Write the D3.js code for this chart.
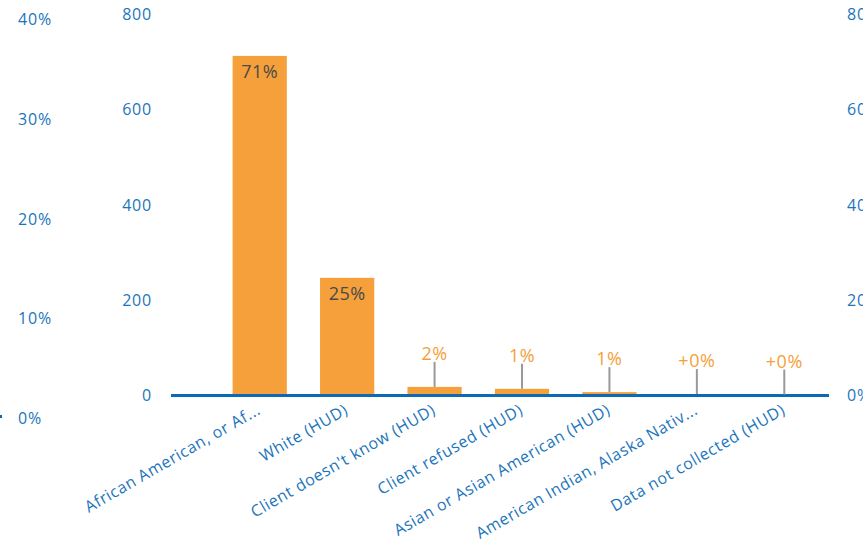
<!DOCTYPE html>
<html>
<head>
<meta charset="utf-8">
<script src="https://cdn.jsdelivr.net/npm/d3@7"></script>
<style>
  html, body { margin: 0; padding: 0; background: #fff; }
  svg { display: block; }
  text { font-family: "Open Sans", sans-serif; }
</style>
</head>
<body>
<svg id="chart" width="863" height="539"></svg>
<script>
const categories = [
  "African American, or Af...",
  "White (HUD)",
  "Client doesn't know (HUD)",
  "Client refused (HUD)",
  "Asian or Asian American (HUD)",
  "American Indian, Alaska Nativ...",
  "Data not collected (HUD)"
];
const counts = [712, 246, 17, 13, 6, 2, 1];
const pctLabels = ["71%", "25%", "2%", "1%", "1%", "+0%", "+0%"];
const countTicks = [0, 200, 400, 600, 800];
const leftPctTicks = [0, 0.1, 0.2, 0.3, 0.4];
const rightPctTicks = [0, 0.2, 0.4, 0.6, 0.8];

const W = 863, H = 539;
const svg = d3.select("#chart");
const BLUE = "#1b75bc";
const AXIS = "#0a6ab5";
const ORANGE = "#f5a03a";
const FONT_SIZE = 16;

const x = d3.scaleBand().domain(categories).range([216, 828])
  .paddingInner(0.38).paddingOuter(0.19);
const y = d3.scaleLinear().domain([0, 800]).range([395, 14]);
const yLeft = d3.scaleLinear().domain([0, 0.4]).range([418, 19]);
const yRight = d3.scaleLinear().domain([0, 0.8]).range([395, 14]);

function styleTicks(g) {
  g.select(".domain").remove();
  g.selectAll("text").attr("fill", BLUE).style("font-size", FONT_SIZE + "px")
    .style("letter-spacing", "0.8px").attr("dy", "0.35em");
}

// left percent axis
const gL = svg.append("g").attr("transform", "translate(18,0)")
  .call(d3.axisRight(yLeft).tickValues(leftPctTicks).tickFormat(d3.format(".0%")).tickSize(0).tickPadding(0));
styleTicks(gL);

// small mark at left edge
svg.append("rect").attr("x", 0).attr("y", yLeft(0) - 3).attr("width", 2).attr("height", 3).attr("fill", AXIS);

// count axis
const gC = svg.append("g").attr("transform", "translate(152,0)")
  .call(d3.axisLeft(y).tickValues(countTicks).tickFormat(d3.format("d")).tickSize(0).tickPadding(0));
styleTicks(gC);

// right percent axis
const gR = svg.append("g").attr("transform", "translate(847,0)")
  .call(d3.axisRight(yRight).tickValues(rightPctTicks).tickFormat(d3.format(".0%")).tickSize(0).tickPadding(0));
styleTicks(gR);

// bars
svg.append("g").selectAll("rect").data(categories).join("rect")
  .attr("x", d => x(d))
  .attr("width", x.bandwidth())
  .attr("y", (d, i) => y(counts[i]))
  .attr("height", (d, i) => y(0) - y(counts[i]))
  .attr("fill", ORANGE);

// baseline
svg.append("rect").attr("x", 171).attr("y", y(0) - 1).attr("width", 829 - 171).attr("height", 3).attr("fill", AXIS);

// value labels
categories.forEach((c, i) => {
  const cx = x(c) + x.bandwidth() / 2;
  const top = y(counts[i]);
  if (y(0) - top > 40) {
    svg.append("text").attr("x", cx).attr("y", top + 16).attr("dy", "0.35em")
      .attr("text-anchor", "middle").attr("fill", "#4a4a4a").style("font-size", "18px")
      .style("letter-spacing", "0.5px")
      .text(pctLabels[i]);
  } else {
    svg.append("line").attr("x1", cx).attr("x2", cx).attr("y1", top - 25).attr("y2", top)
      .attr("stroke", "#999").attr("stroke-width", 2);
    svg.append("text").attr("x", cx).attr("y", top - 33).attr("dy", "0.35em")
      .attr("text-anchor", "middle").attr("fill", ORANGE).style("font-size", "18px")
      .style("letter-spacing", "0.5px")
      .text(pctLabels[i]);
  }
});

// x labels
const gX = svg.append("g").attr("transform", `translate(0,${y(0)})`)
  .call(d3.axisBottom(x).tickSize(0).tickPadding(0));
gX.select(".domain").remove();
gX.selectAll("text")
  .attr("fill", BLUE).style("font-size", FONT_SIZE + "px")
  .style("letter-spacing", "0.6px")
  .attr("text-anchor", "end")
  .attr("dy", "0")
  .attr("transform", "translate(2,18) rotate(-30)");
</script>
</body>
</html>
